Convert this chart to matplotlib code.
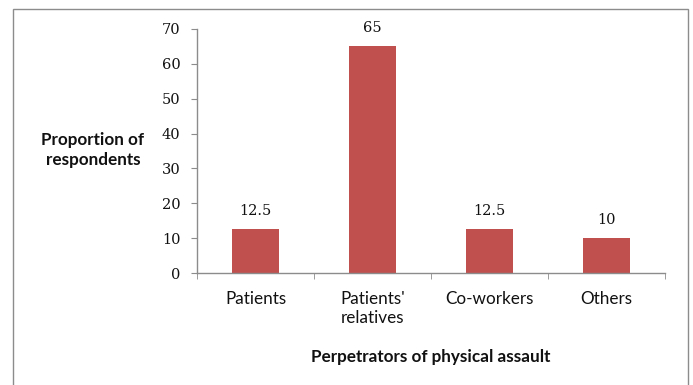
import matplotlib
matplotlib.use("Agg")
import matplotlib.pyplot as plt
from matplotlib.patches import Rectangle

# perpetrators of physical assault, share of respondents (%)
categories = ["Patients", "Patients'\nrelatives", "Co-workers", "Others"]
values = [12.5, 65, 12.5, 10]
value_labels = ["12.5", "65", "12.5", "10"]
y_ticks = [0, 10, 20, 30, 40, 50, 60, 70]

bar_color = "#C0504D"
axis_color = "#8C8C8C"
text_color = "#111111"

fig = plt.figure(figsize=(6.93, 3.85), dpi=100)
ax = fig.add_axes([0.2843, 0.2909, 0.6753, 0.6338])

x = list(range(len(categories)))
bars = ax.bar(x, values, width=0.4, color=bar_color, zorder=2)

for rect, lab in zip(bars, value_labels):
    ax.annotate(lab, (rect.get_x() + rect.get_width() / 2, rect.get_height()),
                xytext=(0, 8), textcoords="offset points", ha="center", va="bottom",
                fontsize=10.5, family="DejaVu Serif", color=text_color)

ax.set_xlim(-0.5, len(categories) - 0.5)
ax.set_ylim(0, 70)
ax.set_yticks(y_ticks)
ax.set_yticklabels([str(t) for t in y_ticks], family="DejaVu Serif", fontsize=10.5)

# category names on major ticks, boundary tick marks on minor ticks
ax.set_xticks(x)
ax.set_xticklabels(categories, family="Lato", fontsize=12.3, color=text_color,
                   linespacing=1.2, va="top")
ax.set_xticks([i - 0.5 for i in range(len(categories) + 1)], minor=True)
ax.tick_params(axis="x", which="major", length=0, pad=13)
ax.tick_params(axis="x", which="minor", length=4, color=axis_color, direction="out")
ax.tick_params(axis="y", length=4, color=axis_color, direction="out", pad=8,
               labelcolor=text_color)

for side in ["top", "right"]:
    ax.spines[side].set_visible(False)
for side in ["left", "bottom"]:
    ax.spines[side].set_color(axis_color)
    ax.spines[side].set_linewidth(1.0)

fig.text(0.134, 0.61, "Proportion of\nrespondents", ha="center", va="center",
         family="Lato", fontweight="bold", fontsize=12.3, color=text_color, linespacing=1.35)
fig.text(0.622, 0.072, "Perpetrators of physical assault", ha="center", va="center",
         family="Lato", fontweight="bold", fontsize=12.3, color=text_color)

# chart frame
fig.patches.append(Rectangle((13 / 693, -0.02), 675 / 693, 1.0 - 9 / 385 + 0.02,
                             transform=fig.transFigure, fill=False,
                             edgecolor="#8C8C8C", linewidth=1.0))

fig.savefig("out.png", dpi=100)
